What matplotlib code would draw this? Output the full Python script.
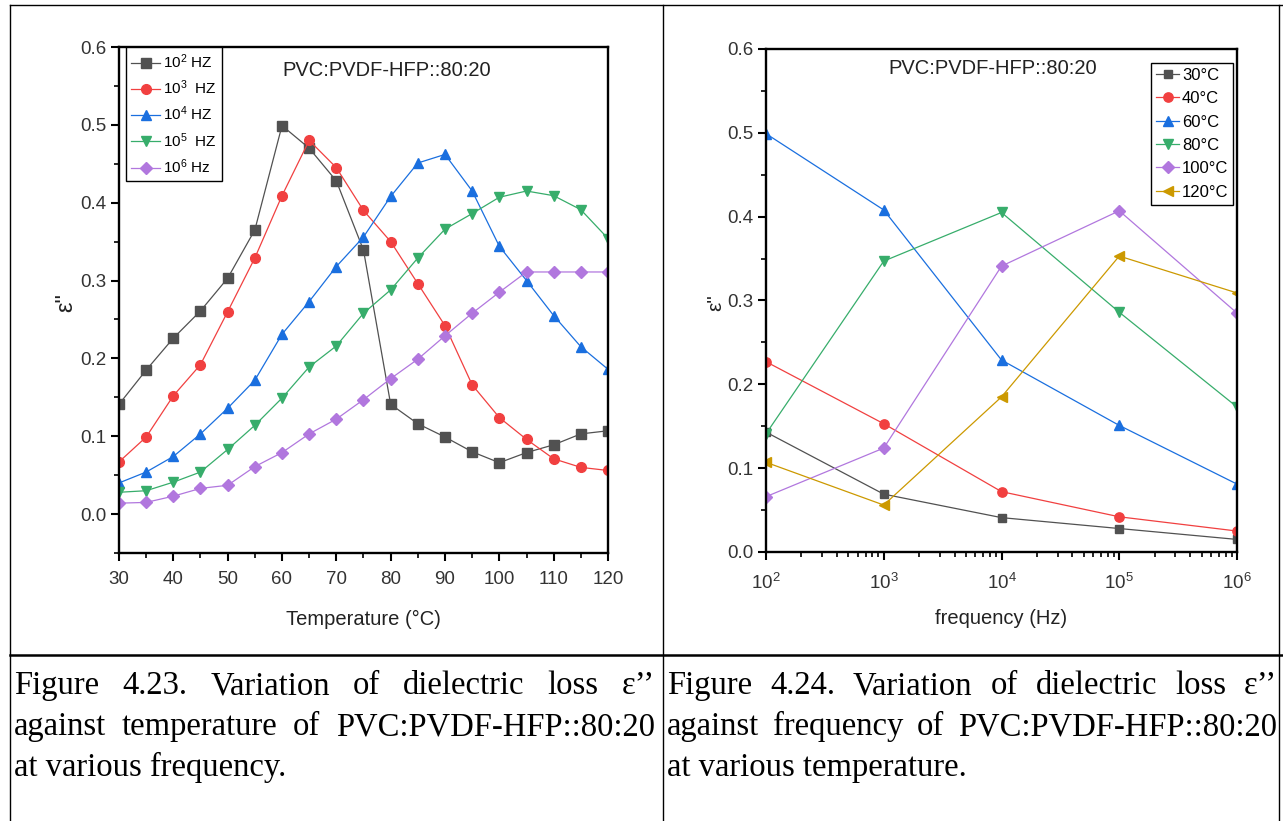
import matplotlib
matplotlib.use('Agg')
import matplotlib.pyplot as plt
from matplotlib.lines import Line2D
from matplotlib.ticker import MultipleLocator, LogLocator, NullFormatter

plt.rcParams['font.family'] = ['Liberation Sans', 'DejaVu Sans']
plt.rcParams['mathtext.fontset'] = 'custom'
plt.rcParams['mathtext.rm'] = 'Liberation Sans'
plt.rcParams['mathtext.it'] = 'Liberation Sans:italic'
plt.rcParams['mathtext.bf'] = 'Liberation Sans:bold'

# ---------------- data: Figure 4.23 (loss vs temperature) ----------------
temperature = [30, 35, 40, 45, 50, 55, 60, 65, 70, 75, 80, 85, 90, 95, 100, 105, 110, 115, 120]
eps_f1e2 = [0.141, 0.185, 0.226, 0.261, 0.303, 0.365, 0.499, 0.470, 0.428, 0.339, 0.141, 0.116,
            0.099, 0.080, 0.066, 0.079, 0.089, 0.103, 0.107]
eps_f1e3 = [0.067, 0.099, 0.152, 0.192, 0.260, 0.329, 0.409, 0.480, 0.445, 0.390, 0.350, 0.296,
            0.242, 0.166, 0.124, 0.096, 0.071, 0.060, 0.056]
eps_f1e4 = [0.040, 0.054, 0.074, 0.103, 0.136, 0.172, 0.231, 0.273, 0.318, 0.356, 0.408, 0.451,
            0.462, 0.415, 0.344, 0.300, 0.255, 0.215, 0.186]
eps_f1e5 = [0.028, 0.030, 0.041, 0.054, 0.083, 0.114, 0.149, 0.189, 0.216, 0.258, 0.288, 0.329,
            0.366, 0.386, 0.407, 0.415, 0.409, 0.391, 0.354]
eps_f1e6 = [0.014, 0.015, 0.023, 0.033, 0.037, 0.061, 0.079, 0.103, 0.122, 0.147, 0.174, 0.199,
            0.229, 0.258, 0.285, 0.311, 0.311, 0.311, 0.311]
freq_labels = [r'10$^{2}$ HZ', r'10$^{3}$  HZ', r'10$^{4}$ HZ', r'10$^{5}$  HZ', r'10$^{6}$ Hz']

# ---------------- data: Figure 4.24 (loss vs frequency) ----------------
frequency = [1e2, 1e3, 1e4, 1e5, 1e6]
eps_T30 = [0.143, 0.069, 0.041, 0.028, 0.015]
eps_T40 = [0.227, 0.153, 0.072, 0.042, 0.025]
eps_T60 = [0.499, 0.408, 0.229, 0.151, 0.081]
eps_T80 = [0.141, 0.347, 0.405, 0.286, 0.173]
eps_T100 = [0.066, 0.124, 0.341, 0.407, 0.285]
eps_T120 = [0.107, 0.056, 0.185, 0.353, 0.309]
temp_labels = ['30°C', '40°C', '60°C', '80°C', '100°C', '120°C']

sample_label = 'PVC:PVDF-HFP::80:20'
caption_left = ['Figure 4.23. Variation of dielectric loss ε’’',
                'against temperature of PVC:PVDF-HFP::80:20',
                'at various frequency.']
caption_right = ['Figure 4.24. Variation of dielectric loss ε’’',
                 'against frequency of PVC:PVDF-HFP::80:20',
                 'at various temperature.']

colors = ['#515151', '#F14040', '#1A6FDF', '#37AD6B', '#B177DE', '#CC9900']
markers = ['s', 'o', '^', 'v', 'D', '<']
msizes = [6.5, 7, 7.5, 7.5, 6, 7.5]

W, H = 1283, 821
fig = plt.figure(figsize=(W / 100, H / 100), dpi=100)
fig.patch.set_facecolor('white')


def px_rect(x0, y0, x1, y1):
    return [x0 / W, 1 - y1 / H, (x1 - x0) / W, (y1 - y0) / H]


def style_axes(ax):
    for s in ax.spines.values():
        s.set_linewidth(1.7)
        s.set_color('black')
    ax.tick_params(which='major', direction='out', length=6, width=1.5,
                   labelsize=13.5, top=False, right=False, colors='black')
    ax.tick_params(which='minor', direction='out', length=3.5, width=1.2,
                   top=False, right=False)
    ax.tick_params(axis='y', which='major', pad=3)
    ax.tick_params(axis='x', which='major', pad=7)
    for lab in ax.get_xticklabels() + ax.get_yticklabels():
        lab.set_color('#333333')


# ---------------- left chart ----------------
ax1 = fig.add_axes(px_rect(119, 47, 608, 553))
series1 = [eps_f1e2, eps_f1e3, eps_f1e4, eps_f1e5, eps_f1e6]
for i, ys in enumerate(series1):
    ax1.plot(temperature, ys, color=colors[i], lw=0.9, marker=markers[i],
             ms=msizes[i], mec=colors[i], mfc=colors[i], label=freq_labels[i])
ax1.set_xlim(30, 120)
ax1.set_ylim(-0.05, 0.6)
ax1.xaxis.set_major_locator(MultipleLocator(10))
ax1.xaxis.set_minor_locator(MultipleLocator(5))
ax1.yaxis.set_major_locator(MultipleLocator(0.1))
ax1.yaxis.set_minor_locator(MultipleLocator(0.05))
ax1.yaxis.set_major_formatter(matplotlib.ticker.FormatStrFormatter('%.1f'))
style_axes(ax1)
ax1.set_xlabel('Temperature (°C)', fontsize=14.5, color='#222222', va='center')
ax1.xaxis.set_label_coords(0.5, -(619 - 553) / 506)
ax1.set_ylabel('ε"', fontsize=17, color='#222222', va='center')
ax1.yaxis.set_label_coords(-(119 - 66) / 489, 0.5 - (303 - 300) / 506)
ax1.text(0.547, 0.953, sample_label, transform=ax1.transAxes, ha='center',
         va='center', fontsize=14.5, color='#222222')
leg1 = ax1.legend(loc='upper left', bbox_to_anchor=(0.014, 1.0), borderaxespad=0,
                  fontsize=11, frameon=True, fancybox=False, framealpha=1,
                  edgecolor='black', handlelength=1.9, handletextpad=0.2,
                  labelspacing=0.5, borderpad=0.35)
leg1.get_frame().set_linewidth(1.0)

# ---------------- right chart ----------------
ax2 = fig.add_axes(px_rect(766, 49, 1237, 552))
series2 = [eps_T30, eps_T40, eps_T60, eps_T80, eps_T100, eps_T120]
for i, ys in enumerate(series2):
    ax2.plot(frequency, ys, color=colors[i], lw=0.9, marker=markers[i],
             ms=msizes[i] - 0.3, mec=colors[i], mfc=colors[i], label=temp_labels[i])
ax2.set_xscale('log')
ax2.set_xlim(1e2, 1e6)
ax2.set_ylim(0, 0.6)
ax2.xaxis.set_major_locator(LogLocator(base=10, numticks=10))
ax2.xaxis.set_minor_locator(LogLocator(base=10, subs=range(2, 10), numticks=20))
ax2.xaxis.set_minor_formatter(NullFormatter())
ax2.yaxis.set_major_locator(MultipleLocator(0.1))
ax2.yaxis.set_minor_locator(MultipleLocator(0.05))
ax2.yaxis.set_major_formatter(matplotlib.ticker.FormatStrFormatter('%.1f'))
style_axes(ax2)
ax2.tick_params(axis='x', which='major', pad=9)
ax2.set_xlabel('frequency (Hz)', fontsize=14.5, color='#222222', va='center')
ax2.xaxis.set_label_coords(0.5, -(619 - 552) / 503)
ax2.set_ylabel('ε"', fontsize=15, color='#222222', va='center')
ax2.yaxis.set_label_coords(-(766 - 716) / 471, 0.5 - (302 - 300) / 503)
ax2.text(0.482, 0.962, sample_label, transform=ax2.transAxes, ha='center',
         va='center', fontsize=14.5, color='#222222')
leg2 = ax2.legend(loc='upper left', bbox_to_anchor=((1151 - 766) / 471, (552 - 63) / 503),
                  borderaxespad=0, fontsize=12, frameon=True, fancybox=False,
                  framealpha=1, edgecolor='black', handlelength=1.4,
                  handletextpad=0.15, labelspacing=0.5, borderpad=0.3)
leg2.get_frame().set_linewidth(1.0)

# ---------------- table rules ----------------
def hline(y, x0, x1, lw):
    fig.add_artist(Line2D([x0 / W, x1 / W], [1 - y / H, 1 - y / H], color='black', lw=lw))


def vline(x, y0, y1, lw):
    fig.add_artist(Line2D([x / W, x / W], [1 - y0 / H, 1 - y1 / H], color='black', lw=lw))


hline(5, 10, 1283, 1.0)
hline(655, 10, 1283, 1.8)
vline(10, 5, 821, 1.0)
vline(663, 5, 821, 1.0)
vline(1279, 5, 821, 1.0)

# ---------------- captions (justified) ----------------
renderer = fig.canvas.get_renderer()
cap_kw = dict(fontsize=23.5, family=['Liberation Serif', 'DejaVu Serif'], va='baseline',
              ha='left', color='black')
baselines = [694, 735, 776]


def put_caption(lines, x0, x1):
    for li, (line, yb) in enumerate(zip(lines, baselines)):
        words = line.split(' ')
        if li == len(lines) - 1:
            fig.text(x0 / W, 1 - yb / H, line, **cap_kw)
            continue
        texts = [fig.text(0, 1 - yb / H, w, **cap_kw) for w in words]
        widths = [t.get_window_extent(renderer).width for t in texts]
        gap = (x1 - x0 - sum(widths)) / (len(words) - 1)
        x = x0
        for t, wd in zip(texts, widths):
            t.set_x(x / W)
            x += wd + gap


put_caption(caption_left, 14, 655)
put_caption(caption_right, 667, 1277)

fig.savefig('out.png', dpi=100, facecolor='white')
